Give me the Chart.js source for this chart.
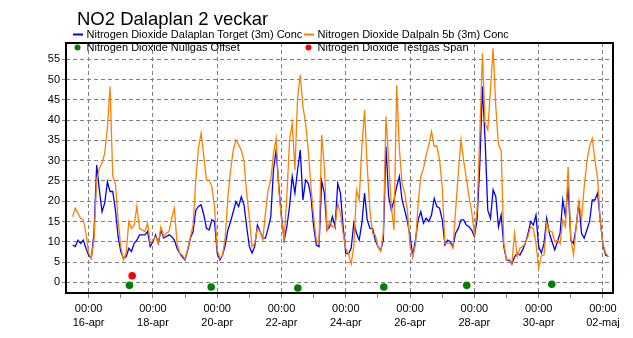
<!DOCTYPE html>
<html>
<head>
<meta charset="utf-8">
<script src="https://cdn.jsdelivr.net/npm/chart.js@4.4.1/dist/chart.umd.min.js"></script>
<style>
  html, body { margin: 0; padding: 0; background: #fff; overflow: hidden; }
  canvas { display: block; }
</style>
</head>
<body>
<canvas id="no2" width="633" height="338"></canvas>
<script>
// ---- Data ----
const chartTitle = 'NO2 Dalaplan 2 veckar';
const seriesNames = [
  'Nitrogen Dioxide Dalaplan Torget (3m) Conc',
  'Nitrogen Dioxide Dalpaln 5b (3m) Conc',
  'Nitrogen Dioxide Nullgas Offset',
  'Nitrogen Dioxide Testgas Span'
];

// Hours relative to 16-apr 00:00; one value every 2 hours from 15-apr 12:00
const firstHour = -12;
const stepHours = 2;

const torgetConc = [
  9.2, 8.8, 10.4, 9.6, 10.4, 8.4, 6.7, 5.9, 12.1, 28.9, 22.8, 17.4,
  19.5, 24.8, 22.4, 22.4, 17.8, 11.3, 7.6, 5.9, 6.3, 8.4, 7.6, 9.6,
  10.4, 11.7, 11.7, 11.7, 12.5, 8.8, 10.0, 11.7, 9.6, 12.9, 10.9, 11.3,
  11.7, 11.3, 10.4, 8.4, 7.2, 6.2, 5.5, 8.0, 10.9, 12.5, 17.8, 18.7,
  19.1, 16.6, 13.3, 12.9, 15.4, 15.0, 7.2, 5.5, 6.7, 9.2, 12.9, 15.0,
  17.4, 19.9, 18.7, 21.1, 19.1, 13.7, 8.8, 7.2, 8.8, 14.1, 12.5, 10.9,
  10.9, 13.3, 16.2, 27.7, 32.6, 23.6, 16.2, 10.4, 13.7, 18.7, 26.1, 22.0,
  27.7, 32.6, 20.3, 25.2, 24.4, 21.1, 13.7, 9.2, 8.8, 25.0, 22.0, 12.9,
  13.7, 16.2, 13.7, 24.4, 22.0, 13.7, 7.2, 7.0, 8.4, 14.6, 12.1, 10.4,
  14.6, 22.0, 15.4, 13.3, 13.3, 10.4, 8.8, 7.8, 10.4, 33.5, 21.1, 17.8,
  20.3, 23.6, 26.1, 20.3, 17.8, 15.0, 11.3, 6.5, 10.4, 15.4, 17.4, 14.6,
  15.8, 15.0, 16.6, 20.7, 18.7, 18.3, 15.4, 9.2, 10.4, 10.0, 8.8, 12.1,
  13.3, 15.4, 15.4, 14.1, 13.7, 12.9, 11.3, 15.4, 28.5, 48.3, 35.1, 17.8,
  15.8, 22.8, 21.1, 13.7, 16.6, 8.8, 5.5, 5.5, 4.5, 6.3, 7.2, 6.7,
  8.0, 9.6, 11.9, 15.0, 14.1, 16.6, 8.8, 7.2, 9.6, 15.8, 12.1, 10.0,
  8.0, 10.0, 12.1, 20.3, 16.2, 23.6, 10.4, 9.6, 13.7, 19.9, 12.1, 10.9,
  12.9, 15.0, 20.3, 20.3, 22.0, 15.4, 9.2, 6.7, 6.3
];

const dalpalnConc = [
  16.2, 18.3, 17.0, 15.8, 15.4, 12.1, 7.2, 5.9, 10.4, 25.2, 28.1, 29.4,
  31.8, 38.0, 48.3, 26.1, 24.4, 15.4, 8.8, 5.5, 7.2, 15.0, 13.3, 14.1,
  18.7, 13.3, 12.9, 12.5, 14.6, 9.6, 10.4, 11.3, 9.6, 13.7, 11.3, 12.1,
  12.5, 15.8, 18.3, 9.6, 7.2, 6.7, 5.7, 8.4, 11.3, 14.1, 25.2, 33.0,
  36.8, 31.0, 25.2, 25.2, 23.6, 18.7, 8.0, 5.9, 6.7, 11.3, 21.1, 27.7,
  32.6, 35.1, 33.9, 32.6, 29.8, 22.0, 16.0, 8.8, 9.6, 13.3, 12.5, 10.4,
  17.0, 22.8, 25.2, 31.8, 35.5, 22.8, 15.4, 10.9, 21.1, 35.1, 39.2, 27.7,
  45.4, 51.2, 43.3, 39.2, 32.6, 23.6, 16.2, 10.4, 9.6, 36.3, 28.5, 12.9,
  15.0, 13.7, 13.7, 19.5, 17.0, 12.1, 8.4, 7.2, 4.5, 8.8, 22.8, 20.3,
  33.5, 42.5, 28.5, 17.8, 12.1, 11.7, 8.8, 7.6, 12.1, 40.9, 30.2, 18.7,
  12.9, 48.7, 33.0, 24.4, 22.0, 17.8, 8.8, 6.3, 9.2, 19.5, 26.1, 28.1,
  31.4, 33.9, 37.2, 33.5, 33.6, 30.2, 23.6, 9.6, 9.6, 9.6, 8.4, 17.8,
  26.9, 35.1, 30.0, 25.7, 21.1, 17.4, 12.1, 17.8, 35.9, 56.5, 39.2, 37.6,
  47.4, 57.7, 43.3, 33.9, 32.6, 9.6, 5.5, 5.7, 4.7, 12.1, 6.3, 8.4,
  8.8, 9.6, 11.3, 13.7, 13.3, 9.6, 3.5, 6.5, 6.8, 14.6, 12.5, 12.5,
  10.0, 10.4, 9.5, 15.4, 13.7, 28.5, 10.9, 6.7, 13.7, 19.9, 15.4, 23.6,
  29.8, 33.5, 35.5, 30.2, 25.7, 15.0, 9.6, 7.2, 6.3
];

const nullgasHours = [30.5, 91.5, 156.2, 220.4, 282.3, 345.8];
const nullgasValues = [-0.75, -1.15, -1.4, -1.15, -0.75, -0.5];

const spanHours = [32.5, 269];
const spanValues = [1.6, -3.8];

const dateLabels = ['16-apr', '18-apr', '20-apr', '22-apr', '24-apr', '26-apr', '28-apr', '30-apr', '02-maj'];
const timeLabel = '00:00';
const dayTickHours = [0, 24, 48, 72, 96, 120, 144, 168, 192, 216, 240, 264, 288, 312, 336, 360, 384];
const yTickValues = [0, 5, 10, 15, 20, 25, 30, 35, 40, 45, 50, 55];

// ---- Helpers ----
const toPoints = (vals) => vals.map((v, i) => ({ x: firstHour + i * stepHours, y: v }));
const pair = (xs, ys) => xs.map((x, i) => ({ x: x, y: ys[i] }));

const FONT = '"Liberation Sans", Arial, sans-serif';
Chart.defaults.font.family = FONT;
Chart.defaults.font.size = 11;
Chart.defaults.color = '#000';

// Title, legend and frame drawn over the plot
const headerPlugin = {
  id: 'headerPlugin',
  afterDraw(chart) {
    const ctx = chart.ctx;
    const a = chart.chartArea;
    const ds = chart.data.datasets;
    ctx.save();

    // frame
    ctx.strokeStyle = '#000';
    ctx.lineWidth = 2;
    ctx.strokeRect(a.left, a.top, a.right - a.left, a.bottom - a.top);

    // title
    ctx.fillStyle = '#000';
    ctx.textBaseline = 'alphabetic';
    ctx.font = '18.5px ' + FONT;
    ctx.fillText(chartTitle, 77, 25);

    // legend
    ctx.font = '11px ' + FONT;
    ctx.textBaseline = 'middle';
    const slots = [
      { x: 73, y: 34.5 }, { x: 304, y: 34.5 },
      { x: 73, y: 47.5 }, { x: 304, y: 47.5 }
    ];
    ds.forEach((d, i) => {
      const s = slots[i];
      if (d.showLine) {
        ctx.strokeStyle = d.borderColor;
        ctx.lineWidth = 2;
        ctx.beginPath();
        ctx.moveTo(s.x, s.y);
        ctx.lineTo(s.x + 10, s.y);
        ctx.stroke();
      } else {
        ctx.fillStyle = d.backgroundColor;
        ctx.beginPath();
        ctx.arc(s.x + 4.5, s.y, 3, 0, Math.PI * 2);
        ctx.fill();
      }
      ctx.fillStyle = '#000';
      ctx.fillText(d.label, s.x + 13.5, s.y);
    });
    ctx.restore();
  }
};

new Chart(document.getElementById('no2'), {
  type: 'scatter',
  data: {
    datasets: [
      {
        label: seriesNames[0],
        data: toPoints(torgetConc),
        showLine: true,
        borderColor: '#0000ff',
        backgroundColor: '#0000ff',
        borderWidth: 1.3,
        pointRadius: 0,
        tension: 0,
        order: 2
      },
      {
        label: seriesNames[1],
        data: toPoints(dalpalnConc),
        showLine: true,
        borderColor: '#ff8000',
        backgroundColor: '#ff8000',
        borderWidth: 1.3,
        pointRadius: 0,
        tension: 0,
        order: 1
      },
      {
        label: seriesNames[2],
        data: pair(nullgasHours, nullgasValues),
        showLine: false,
        backgroundColor: '#008000',
        borderColor: '#008000',
        borderWidth: 0,
        pointRadius: 3.8,
        order: 0
      },
      {
        label: seriesNames[3],
        data: pair(spanHours, spanValues),
        showLine: false,
        backgroundColor: '#ff0000',
        borderColor: '#ff0000',
        borderWidth: 0,
        pointRadius: 3.8,
        clip: { left: 5, top: 5, right: 5, bottom: 2 },
        order: 0
      }
    ]
  },
  options: {
    responsive: false,
    animation: false,
    devicePixelRatio: 1,
    events: [],
    layout: { padding: { top: 43, right: 20, left: 0, bottom: 0 } },
    plugins: {
      legend: { display: false },
      title: { display: false },
      tooltip: { enabled: false }
    },
    scales: {
      x: {
        type: 'linear',
        min: -16.9,
        max: 391.5,
        afterFit(s) { s.height = 45; },
        afterBuildTicks(s) { s.ticks = dayTickHours.map(v => ({ value: v })); },
        grid: {
          color: (c) => (c.tick && c.tick.value % 48 === 0) ? '#808080' : 'rgba(0,0,0,0)',
          lineWidth: 1,
          drawTicks: true,
          tickLength: 5,
          tickColor: '#808080',
          tickWidth: 1
        },
        border: { display: false, dash: [4, 3] },
        ticks: {
          autoSkip: false,
          maxRotation: 0,
          minRotation: 0,
          padding: 4,
          color: '#000',
          font: { size: 11, lineHeight: 1.3 },
          callback: (v) => (v % 48 === 0) ? [timeLabel, dateLabels[v / 48]] : ''
        }
      },
      y: {
        type: 'linear',
        min: -2.64,
        max: 59.02,
        afterFit(s) { s.width = 66; },
        afterBuildTicks(s) { s.ticks = yTickValues.map(v => ({ value: v })); },
        grid: {
          color: '#808080',
          lineWidth: 1,
          drawTicks: true,
          tickLength: 4,
          tickColor: '#808080',
          tickWidth: 1
        },
        border: { display: false, dash: [4, 3] },
        ticks: {
          padding: 2,
          color: '#000',
          font: { size: 11 }
        }
      }
    }
  },
  plugins: [headerPlugin]
});
</script>
</body>
</html>
